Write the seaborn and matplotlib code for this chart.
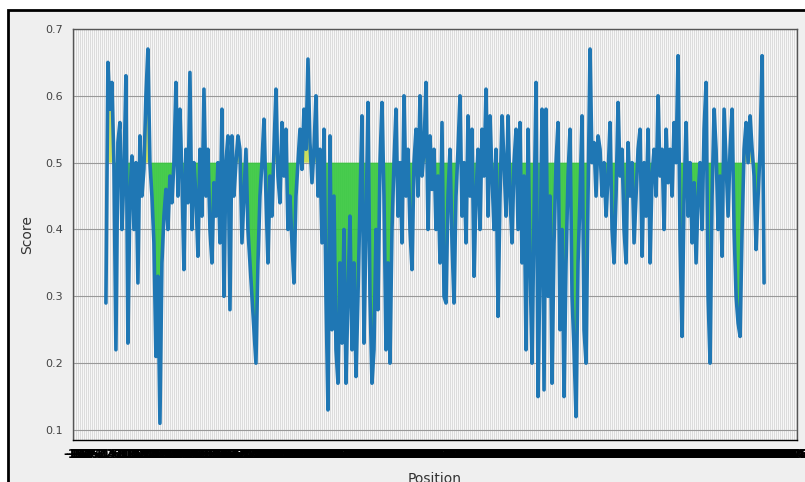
import matplotlib
matplotlib.use("Agg")
import matplotlib.pyplot as plt
import seaborn as sns
import numpy as np
from matplotlib.patches import Rectangle

# ---- data ----
scores = [
    0.29, 0.65, 0.58, 0.62, 0.50, 0.22, 0.53, 0.56, 0.40, 0.48,
    0.63, 0.23, 0.45, 0.51, 0.40, 0.50, 0.32, 0.54, 0.45, 0.49,
    0.60, 0.67, 0.50, 0.45, 0.38, 0.21, 0.33, 0.11, 0.35, 0.42,
    0.46, 0.40, 0.48, 0.44, 0.50, 0.62, 0.45, 0.58, 0.48, 0.34,
    0.52, 0.44, 0.635, 0.40, 0.50, 0.45, 0.36, 0.52, 0.42, 0.61,
    0.45, 0.52, 0.40, 0.35, 0.47, 0.42, 0.50, 0.38, 0.58, 0.30,
    0.50, 0.54, 0.28, 0.54, 0.45, 0.50, 0.54, 0.52, 0.38, 0.45,
    0.52, 0.40, 0.35, 0.30, 0.25, 0.20, 0.35, 0.45, 0.50, 0.565,
    0.45, 0.35, 0.48, 0.42, 0.52, 0.61, 0.48, 0.44, 0.56, 0.48,
    0.55, 0.40, 0.45, 0.38, 0.32, 0.45, 0.50, 0.55, 0.49, 0.58,
    0.52, 0.655, 0.53, 0.47, 0.52, 0.60, 0.45, 0.52, 0.38, 0.55,
    0.30, 0.13, 0.54, 0.25, 0.45, 0.22, 0.17, 0.35, 0.23, 0.40,
    0.17, 0.30, 0.42, 0.22, 0.35, 0.18, 0.30, 0.44, 0.57, 0.23,
    0.40, 0.59, 0.30, 0.17, 0.22, 0.40, 0.28, 0.50, 0.59, 0.45,
    0.22, 0.35, 0.20, 0.40, 0.50, 0.58, 0.42, 0.50, 0.38, 0.60,
    0.45, 0.52, 0.40, 0.34, 0.50, 0.55, 0.45, 0.60, 0.48, 0.52,
    0.62, 0.40, 0.54, 0.46, 0.52, 0.40, 0.48, 0.35, 0.56, 0.30,
    0.29, 0.45, 0.52, 0.38, 0.29, 0.45, 0.52, 0.60, 0.42, 0.50,
    0.38, 0.57, 0.45, 0.55, 0.33, 0.45, 0.52, 0.40, 0.55, 0.48,
    0.61, 0.42, 0.57, 0.48, 0.40, 0.52, 0.27, 0.45, 0.57, 0.50,
    0.42, 0.57, 0.45, 0.38, 0.50, 0.55, 0.40, 0.56, 0.35, 0.48,
    0.22, 0.55, 0.35, 0.20, 0.42, 0.62, 0.15, 0.35, 0.58, 0.16,
    0.58, 0.30, 0.45, 0.17, 0.38, 0.50, 0.56, 0.25, 0.40, 0.15,
    0.35, 0.48, 0.55, 0.30, 0.22, 0.12, 0.35, 0.45, 0.57, 0.25,
    0.20, 0.45, 0.67, 0.50, 0.53, 0.45, 0.54, 0.52, 0.45, 0.50,
    0.42, 0.48, 0.56, 0.40, 0.35, 0.45, 0.59, 0.48, 0.52, 0.40,
    0.35, 0.53, 0.45, 0.50, 0.38, 0.45, 0.52, 0.55, 0.36, 0.50,
    0.42, 0.55, 0.35, 0.48, 0.52, 0.45, 0.60, 0.48, 0.52, 0.40,
    0.55, 0.47, 0.52, 0.45, 0.56, 0.50, 0.66, 0.38, 0.24, 0.45,
    0.56, 0.42, 0.50, 0.38, 0.47, 0.35, 0.45, 0.50, 0.40, 0.55,
    0.62, 0.30, 0.20, 0.45, 0.58, 0.52, 0.40, 0.48, 0.36, 0.58,
    0.50, 0.42, 0.52, 0.58, 0.40, 0.30, 0.26, 0.24, 0.40, 0.52,
    0.56, 0.50, 0.57, 0.52, 0.48, 0.37, 0.45, 0.52, 0.66, 0.32,
]
positions = list(range(1, len(scores) + 1))
threshold = 0.5
y_ticks = [0.1, 0.2, 0.3, 0.4, 0.5, 0.6, 0.7]

# ---- figure ----
sns.set_style("white")
fig = plt.figure(figsize=(8.05, 4.82), dpi=100, facecolor="white")
frame = Rectangle((8 / 805, -0.1), 1.1, 1 - 10 / 482 + 0.1,
                  transform=fig.transFigure, facecolor="#efefef",
                  edgecolor="black", linewidth=2, zorder=-5)
fig.patches.append(frame)

ax = fig.add_axes([73 / 805, 1 - 440 / 482, (797 - 73) / 805, (440 - 29) / 482])
ax.set_facecolor("#f7f7f7")

x = np.array(positions, dtype=float)
y = np.array(scores)

sns.lineplot(x=x, y=y, ax=ax, color="#1f77b4", linewidth=2.6, zorder=2)
ax.fill_between(x, y, threshold, where=y >= threshold, interpolate=True,
                color="#c5dc4e", alpha=0.9, zorder=1, linewidth=0)
ax.fill_between(x, y, threshold, where=y < threshold, interpolate=True,
                color="#35c83c", alpha=0.9, zorder=1, linewidth=0)

ax.margins(x=0.05)
ax.set_ylim(0.085, 0.7)
ax.set_yticks(y_ticks)
ax.set_yticklabels([f"{v:.1f}" for v in y_ticks], fontsize=8, color="#444444")

# one tick per position, spread over the whole (margined) x range
x0, x1 = ax.get_xlim()
tick_pos = np.arange(int(np.ceil(x0)), int(np.floor(x1)) + 1)
ax.set_xticks(tick_pos)
ax.set_xticklabels([str(t) for t in tick_pos], fontsize=8.5, rotation=0,
                   color="black", fontweight="bold")
ax.set_xlim(x0, x1)
ax.tick_params(axis="x", length=4, width=1.0, color="black", pad=2)
ax.tick_params(axis="y", length=3.5, width=0.8, color="#555555")

ax.grid(True, axis="x", color="#c8c8c8", linewidth=0.5, alpha=0.8, zorder=0)
ax.grid(True, axis="y", color="#999999", linewidth=0.8, zorder=0)
ax.set_axisbelow(True)

for s in ax.spines.values():
    s.set_color("#555555")
    s.set_linewidth(1.0)
    s.set_visible(True)
ax.spines["bottom"].set_color("black")

ax.set_xlabel("Position", fontsize=10, color="#333333", labelpad=8)
ax.set_ylabel("Score", fontsize=10, color="#333333", labelpad=8)

fig.savefig("out.png", dpi=100, facecolor=fig.get_facecolor())
